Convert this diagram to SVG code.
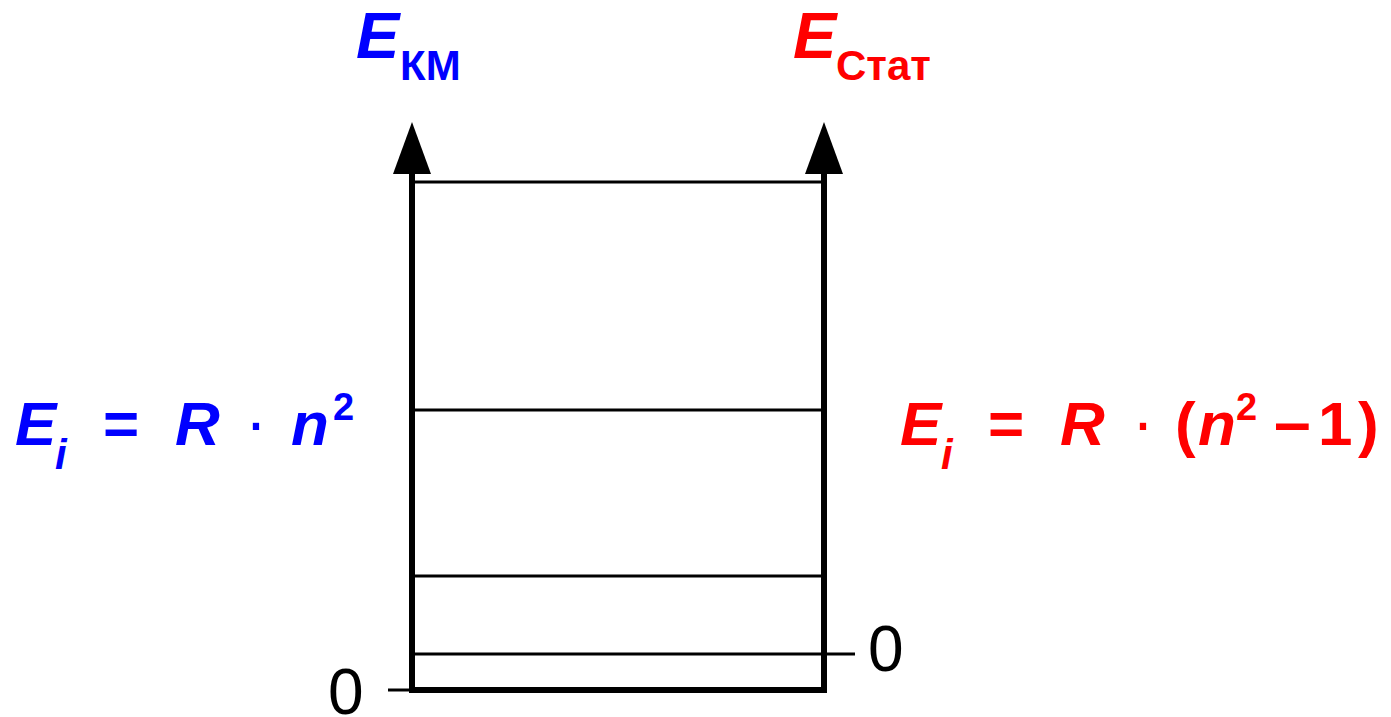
<svg xmlns="http://www.w3.org/2000/svg" width="1391" height="717" viewBox="0 0 1391 717">
<style>
.ax{stroke:#000;stroke-width:6;fill:none;stroke-linecap:square}
.lv{stroke:#000;stroke-width:3;fill:none}
.bi{font-family:"Liberation Sans",Arial,sans-serif;font-weight:bold;font-style:italic}
.b{font-family:"Liberation Sans",Arial,sans-serif;font-weight:bold}
.n{font-family:"Liberation Sans",Arial,sans-serif}
.blue{fill:#0000ff}
.red{fill:#ff0000}
</style>
<rect width="1391" height="717" fill="#fff"/>
<g id="connectors">
<line class="ax" x1="412" y1="170" x2="412" y2="690"/>
<line class="ax" x1="824" y1="170" x2="824" y2="690"/>
<line class="ax" x1="412" y1="690" x2="824" y2="690"/>
<polygon points="412,122 393,174 431,174" fill="#000"/>
<polygon points="824,122 805,174 843,174" fill="#000"/>
<line class="lv" x1="388" y1="690" x2="412" y2="690"/>
</g>
<g id="levels">
<line class="lv" x1="412" y1="182" x2="824" y2="182"/>
<line class="lv" x1="412" y1="410" x2="824" y2="410"/>
<line class="lv" x1="412" y1="576" x2="824" y2="576"/>
<line class="lv" x1="412" y1="654" x2="855" y2="654"/>
</g>
<g id="axis-left-label" class="blue">
<text class="bi" x="356" y="58" font-size="65">E</text>
<text class="b" x="400" y="80" font-size="42">КМ</text>
</g>
<g id="axis-right-label" class="red">
<text class="bi" x="793" y="58" font-size="65">E</text>
<text class="b" x="836" y="80" font-size="42">Стат</text>
</g>
<g id="formula-left" class="blue">
<text class="bi" x="15" y="445" font-size="62">E</text>
<text class="bi" x="55" y="469" font-size="42">i</text>
<text class="b" x="103" y="445" font-size="62">=</text>
<text class="bi" x="175" y="445" font-size="62">R</text>
<text class="n" x="256" y="445" font-size="66" text-anchor="middle">·</text>
<text class="bi" x="291" y="445" font-size="62">n</text>
<text class="b" x="333" y="420" font-size="38">2</text>
</g>
<g id="formula-right" class="red">
<text class="bi" x="900" y="445" font-size="62">E</text>
<text class="bi" x="941" y="469" font-size="42">i</text>
<text class="b" x="988" y="445" font-size="62">=</text>
<text class="bi" x="1060" y="445" font-size="62">R</text>
<text class="n" x="1143" y="445" font-size="66" text-anchor="middle">·</text>
<text class="b" x="1175" y="445" font-size="62">(</text>
<text class="bi" x="1198" y="445" font-size="62">n</text>
<text class="b" x="1236" y="420" font-size="38">2</text>
<text class="b" x="1274" y="445" font-size="66">–</text>
<text class="b" x="1318" y="445" font-size="62">1</text>
<text class="b" x="1358" y="445" font-size="62">)</text>
</g>
<g id="zero-labels">
<text class="n" x="328" y="714" font-size="64">0</text>
<text class="n" x="868" y="671" font-size="64">0</text>
</g>
</svg>
